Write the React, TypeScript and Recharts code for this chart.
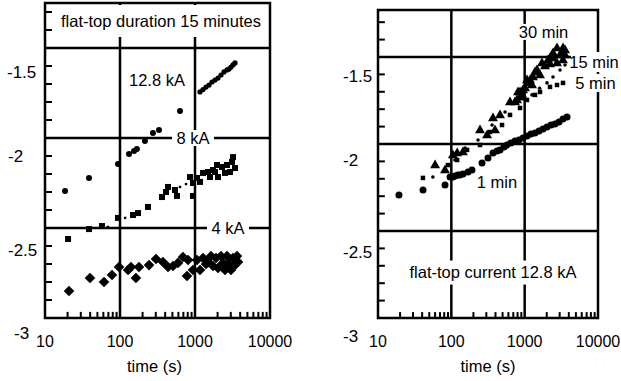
import React from 'react';
import { ScatterChart, Scatter, XAxis, YAxis, ReferenceLine, ReferenceArea, ReferenceDot } from 'recharts';

const FONT = '"Liberation Sans", Arial, Helvetica, sans-serif';
const INK = '#000';

type Pt = [number, number];

// shared axes
const X_DOMAIN: [number, number] = [10, 10000];
const X_TICKS = [10, 100, 1000, 10000];
const X_GRID = [100, 1000];
const X_MINOR = [20, 30, 40, 50, 60, 70, 80, 90, 200, 300, 400, 500, 600, 700, 800, 900, 2000, 3000, 4000, 5000, 6000, 7000, 8000, 9000];
const Y_TICKS = [-3, -2.5, -2, -1.5];
const Y_GRID = [-2.5, -2, -1.5];
const Y_MINOR = [-2.9, -2.8, -2.7, -2.6, -2.4, -2.3, -2.2, -2.1, -1.9, -1.8, -1.7, -1.6, -1.4, -1.3];
const LEFT_Y_DOMAIN: [number, number] = [-3, -1.25];
const RIGHT_Y_DOMAIN: [number, number] = [-3, -1.23];

// left panel: flat-top duration 15 minutes
const KA_12_8: Pt[] = [
  [18.5, -2.294], [38.6, -2.222], [94, -2.144], [132, -2.089], [154, -2.072],
  [168, -2.061], [215, -2.017], [275, -1.972], [331, -1.956], [631, -1.85],
];
const KA_12_8_LATE: Pt[] = [
  [1166, -1.744], [1279, -1.731], [1402, -1.717], [1537, -1.706], [1685, -1.689],
  [1848, -1.678], [2026, -1.667], [2222, -1.65], [2436, -1.633], [2671, -1.622],
  [2840, -1.617], [3020, -1.606], [3211, -1.594], [3415, -1.583],
];
const KA_8: Pt[] = [
  [20.3, -2.561], [38.6, -2.506], [57.5, -2.489], [94, -2.444], [149, -2.428],
  [174, -2.417], [236, -2.383], [363, -2.328], [411, -2.3], [437, -2.272],
  [541, -2.289], [575, -2.322], [858, -2.217], [940, -2.25], [940, -2.322],
  [1063, -2.222], [1166, -2.244], [1279, -2.194], [1490, -2.189], [1585, -2.217],
  [1738, -2.178], [1848, -2.189], [1965, -2.15], [2026, -2.217], [2291, -2.161],
  [2512, -2.194], [2671, -2.15], [2929, -2.189], [3114, -2.133], [3211, -2.106],
  [3415, -2.167],
];
const KA_8_SMALL: Pt[] = [[69, -2.494], [117, -2.444], [631, -2.272], [759, -2.256]];
const KA_4: Pt[] = [
  [20.9, -2.85], [39.8, -2.778], [61.2, -2.8], [78.2, -2.761], [97, -2.717],
  [128, -2.733], [140, -2.717], [163, -2.778], [179, -2.717], [244, -2.706],
  [302, -2.672], [374, -2.689], [437, -2.717], [509, -2.711], [593, -2.694],
  [692, -2.661], [782, -2.767], [807, -2.678], [940, -2.733], [1063, -2.678],
  [1166, -2.733], [1279, -2.667], [1402, -2.7], [1490, -2.689], [1634, -2.656],
  [1738, -2.711], [1905, -2.667], [2026, -2.722], [2222, -2.656], [2362, -2.694],
  [2512, -2.733], [2671, -2.656], [2840, -2.7], [3020, -2.733], [3211, -2.667],
  [3415, -2.706], [3631, -2.656], [3745, -2.689],
];

// right panel: flat-top current 12.8 kA
const MIN_1: Pt[] = [
  [19.3, -2.293], [41.1, -2.264], [82, -2.236], [96, -2.19], [105, -2.19],
  [112, -2.184], [123, -2.178], [131, -2.178], [144, -2.172], [169, -2.161],
  [191, -2.149], [262, -2.109], [316, -2.08], [370, -2.052], [420, -2.04],
  [461, -2.034], [523, -2.017], [574, -2.006], [651, -1.994], [738, -1.983],
  [837, -1.977], [949, -1.966], [1076, -1.954], [1221, -1.943], [1384, -1.937],
  [1569, -1.925], [1779, -1.914], [2017, -1.902], [2287, -1.891], [2593, -1.885],
  [2940, -1.874], [3334, -1.856], [3780, -1.845],
];
const MIN_5: Pt[] = [
  [41, -2.195], [90, -2.121], [120, -2.092], [164, -2.034], [246, -2.006],
  [337, -1.931], [491, -1.891], [631, -1.833], [864, -1.793], [1076, -1.747],
  [1384, -1.718], [1619, -1.701], [2216, -1.672], [2761, -1.661], [3334, -1.649],
];
const MIN_15: Pt[] = [
  [56, -2.19], [112, -2.092], [154, -2.023], [231, -1.977], [359, -1.891],
  [540, -1.816], [738, -1.764], [1011, -1.735], [1259, -1.718], [1600, -1.68],
  [2017, -1.649], [2435, -1.615], [3033, -1.575], [3548, -1.546],
];
const MIN_30: Pt[] = [
  [60, -2.121], [82, -2.149], [105, -2.063], [120, -2.052], [144, -2.046],
  [246, -1.92], [307, -1.948], [370, -1.851], [394, -1.92], [461, -1.833],
  [631, -1.759], [738, -1.759], [786, -1.747], [811, -1.701], [864, -1.73],
  [864, -1.701], [920, -1.73], [949, -1.69], [1011, -1.678], [1076, -1.632],
  [1110, -1.649], [1183, -1.632], [1259, -1.661], [1299, -1.615], [1384, -1.586],
  [1473, -1.575], [1619, -1.603], [1723, -1.534], [1894, -1.552], [2081, -1.517],
  [2216, -1.54], [2216, -1.506], [2435, -1.477], [2435, -1.506], [2761, -1.448],
  [2761, -1.534], [3033, -1.489], [3229, -1.471], [3334, -1.517], [3334, -1.448],
  [3548, -1.489], [3548, -1.46],
];

const rows = (pts: Pt[]) => pts.map(([t, v]) => ({ t, v }));

// marker shapes
const dot = (r: number) => (p: any) =>
  p.cx == null ? null : <circle cx={p.cx} cy={p.cy} r={r} fill={INK} />;
const square = (s: number) => (p: any) =>
  p.cx == null ? null : <rect x={p.cx - s / 2} y={p.cy - s / 2} width={s} height={s} fill={INK} />;
const diamond = (h: number) => (p: any) =>
  p.cx == null ? null : (
    <path d={`M${p.cx},${p.cy - h}L${p.cx + h},${p.cy}L${p.cx},${p.cy + h}L${p.cx - h},${p.cy}Z`} fill={INK} />
  );
const triangle = (h: number) => (p: any) =>
  p.cx == null ? null : (
    <path d={`M${p.cx},${p.cy - h}L${p.cx + h * 0.9},${p.cy + h * 0.6}L${p.cx - h * 0.9},${p.cy + h * 0.6}Z`} fill={INK} />
  );

// annotation text with optional white box that masks grid/frame lines
const note = (text: string, boxW = 0, boxH = 0, boxDy = 0) => (props: any) => {
  const vb = props.viewBox || {};
  const cx = vb.x + (vb.width || 0) / 2;
  const cy = vb.y + (vb.height || 0) / 2;
  return (
    <g>
      {boxW > 0 && <rect x={cx - boxW / 2} y={cy - boxH / 2 + boxDy} width={boxW} height={boxH} fill="#fff" />}
      <text x={cx} y={cy} textAnchor="middle" dominantBaseline="central" fontSize={16.5} fontFamily={FONT} fill={INK}>
        {text}
      </text>
    </g>
  );
};

const XTick = (props: any) => (
  <text x={props.x} y={props.y + 23.5} textAnchor="middle" dominantBaseline="central" fontSize={16} fontFamily={FONT} fill={INK}>
    {props.payload.value}
  </text>
);

// tick labels in the original sit a little below their grid lines
const LEFT_Y_SHIFT: Record<string, [number, number]> = { '-1.5': [-38, 24.7], '-2': [-37, 18], '-2.5': [-37, 22.5], '-3': [-31, 15.5] };
const RIGHT_Y_SHIFT: Record<string, [number, number]> = { '-1.5': [-35, 20], '-2': [-35, 17], '-2.5': [-35, 22], '-3': [-35, 18.5] };

const yTick = (shift: Record<string, [number, number]>) => (props: any) => {
  const [dx, dy] = shift[String(props.payload.value)] ?? [-36, 20];
  return (
    <text x={props.x + dx} y={props.y + dy} textAnchor="start" dominantBaseline="central" fontSize={17} fontFamily={FONT} fill={INK}>
      {props.payload.value}
    </text>
  );
};

const Panel = ({ width, margin, yWidth, yDomain, yShift, xLabelDx, children }: any) => (
  <ScatterChart width={width} height={381} margin={margin}>
    <XAxis
      type="number"
      dataKey="t"
      scale="log"
      domain={X_DOMAIN}
      ticks={X_TICKS}
      interval={0}
      allowDataOverflow
      height={63}
      axisLine={false}
      tickLine={false}
      tickSize={0}
      tickMargin={0}
      tick={<XTick />}
      label={{
        content: (p: any) => (
          <text
            x={p.viewBox.x + p.viewBox.width / 2 + xLabelDx}
            y={p.viewBox.y + 48}
            textAnchor="middle"
            dominantBaseline="central"
            fontSize={16.5}
            fontFamily={FONT}
            fill={INK}
          >
            time (s)
          </text>
        ),
      }}
    />
    <YAxis
      type="number"
      dataKey="v"
      domain={yDomain}
      ticks={Y_TICKS}
      interval={0}
      allowDataOverflow
      width={yWidth}
      axisLine={false}
      tickLine={false}
      tickSize={0}
      tickMargin={0}
      tick={yTick(yShift)}
    />
    {X_MINOR.map((t) => (
      <ReferenceLine key={`xm${t}`} segment={[{ x: t, y: -3 }, { x: t, y: -2.966 }]} stroke={INK} strokeWidth={2} ifOverflow="visible" />
    ))}
    {Y_MINOR.map((v) => (
      <ReferenceLine key={`ym${v}`} segment={[{ x: 10, y: v }, { x: 12.4, y: v }]} stroke={INK} strokeWidth={2} ifOverflow="visible" />
    ))}
    {X_GRID.map((t) => (
      <ReferenceLine key={`xg${t}`} x={t} stroke={INK} strokeWidth={2.5} />
    ))}
    {Y_GRID.map((v) => (
      <ReferenceLine key={`yg${v}`} y={v} stroke={INK} strokeWidth={2.5} />
    ))}
    <ReferenceArea x1={X_DOMAIN[0]} x2={X_DOMAIN[1]} y1={yDomain[0]} y2={yDomain[1]} fill="none" fillOpacity={0} stroke={INK} strokeWidth={2.5} ifOverflow="visible" />
    {children}
  </ScatterChart>
);

const App = () => (
  <div style={{ position: 'absolute', left: 0, top: 0, width: 621, height: 381, background: '#fff', fontFamily: FONT }}>
    <div style={{ position: 'absolute', left: 0, top: 0 }}>
      <Panel
        width={310}
        margin={{ top: 3, right: 40, bottom: 0, left: 0 }}
        yWidth={45}
        yDomain={LEFT_Y_DOMAIN}
        yShift={LEFT_Y_SHIFT}
        xLabelDx={-3}
      >
        <Scatter data={rows(KA_12_8)} shape={dot(3)} isAnimationActive={false} />
        <Scatter data={rows(KA_12_8_LATE)} shape={dot(2.6)} isAnimationActive={false} />
        <Scatter data={rows(KA_8)} shape={square(6)} isAnimationActive={false} />
        <Scatter data={rows(KA_8_SMALL)} shape={square(2.4)} isAnimationActive={false} />
        <Scatter data={rows(KA_4)} shape={diamond(5.3)} isAnimationActive={false} />
        <ReferenceDot x={352} y={-1.35} r={0} stroke="none" ifOverflow="visible" label={note('flat-top duration 15 minutes', 210, 32)} />
        <ReferenceDot x={311} y={-1.678} r={0} stroke="none" ifOverflow="visible" label={note('12.8 kA')} />
        <ReferenceDot x={940} y={-2} r={0} stroke="none" ifOverflow="visible" label={note('8 kA', 42, 16)} />
        <ReferenceDot x={2754} y={-2.5} r={0} stroke="none" ifOverflow="visible" label={note('4 kA', 42, 16)} />
      </Panel>
    </div>
    <div style={{ position: 'absolute', left: 310, top: 0 }}>
      <Panel
        width={311}
        margin={{ top: 10, right: 23, bottom: 0, left: 0 }}
        yWidth={68}
        yDomain={RIGHT_Y_DOMAIN}
        yShift={RIGHT_Y_SHIFT}
        xLabelDx={0}
      >
        <Scatter data={rows(MIN_1)} shape={dot(3.5)} isAnimationActive={false} />
        <Scatter data={rows(MIN_5)} shape={square(4.5)} isAnimationActive={false} />
        <Scatter data={rows(MIN_15)} shape={dot(1.8)} isAnimationActive={false} />
        <Scatter data={rows(MIN_30)} shape={triangle(5.5)} isAnimationActive={false} />
        <ReferenceDot x={1807} y={-1.356} r={0} stroke="none" ifOverflow="visible" label={note('30 min', 48, 16)} />
        <ReferenceDot x={8830} y={-1.529} r={0} stroke="none" ifOverflow="visible" label={note('15 min', 46, 20)} />
        <ReferenceDot x={9250} y={-1.649} r={0} stroke="none" ifOverflow="visible" label={note('5 min', 40, 18)} />
        <ReferenceDot x={420} y={-2.218} r={0} stroke="none" ifOverflow="visible" label={note('1 min')} />
        <ReferenceDot x={370} y={-2.733} r={0} stroke="none" ifOverflow="visible" label={note('flat-top current 12.8 kA', 172, 24, 1)} />
      </Panel>
    </div>
  </div>
);

export default App;
